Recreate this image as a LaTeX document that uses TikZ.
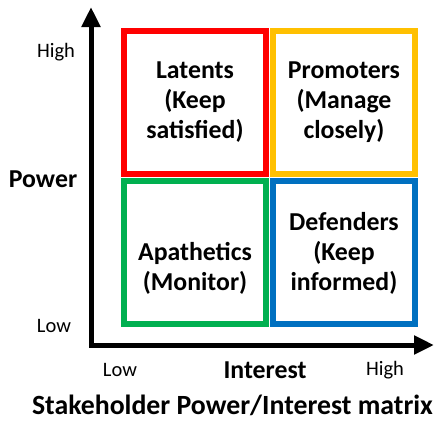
\documentclass[tikz,border=0pt]{standalone}
\usepackage{fontspec}
\setmainfont{Carlito}
\usetikzlibrary{arrows.meta}
\definecolor{qred}{HTML}{FF0000}
\definecolor{qyellow}{HTML}{FFC000}
\definecolor{qgreen}{HTML}{00B050}
\definecolor{qblue}{HTML}{0070C0}
\tikzset{
  quad/.style={draw=#1, line width=6pt, rectangle, minimum width=142pt, minimum height=143pt, inner sep=0pt, outer sep=0pt},
  qtext/.style={align=center, font=\fontsize{25.8}{30}\selectfont\bfseries, inner sep=0pt},
  lbl/.style={font=\fontsize{20.5}{24}\selectfont, inner sep=0pt},
  blbl/.style={font=\fontsize{25.8}{28}\selectfont\bfseries, inner sep=0pt},
  tlbl/.style={font=\fontsize{27.8}{30}\selectfont\bfseries, inner sep=0pt},
  axis/.style={line width=5pt, miter limit=10, {Triangle[length=20pt,width=18pt]}-{Triangle[length=20pt,width=18pt]}}
}
\begin{document}
\begin{tikzpicture}[x=1pt,y=-1pt]
\useasboundingbox (0,0) rectangle (439,421);
\coordinate (ytip) at (91,7);
\coordinate (origin) at (91,345);
\coordinate (xtip) at (434,345);
\draw[axis] (ytip) -- (origin) -- (xtip);
\node[quad=qred] (lat) at (195,102.5) {};
\node[quad=qyellow] (pro) at (344,102.5) {};
\node[quad=qgreen] (apa) at (195,252.5) {};
\node[quad=qblue] (def) at (344,252.5) {};
\node[qtext] (latt) at (195,102) {Latents\\(Keep\\satisfied)};
\node[qtext] (prot) at (344,102) {Promoters\\(Manage\\closely)};
\node[qtext] (apat) at (195,268) {Apathetics\\(Monitor)};
\node[qtext] (deft) at (344,253) {Defenders\\(Keep\\informed)};
\node[lbl] (yhigh) at (56,52) {High};
\node[lbl] (ylow) at (54,326) {Low};
\node[blbl] (power) at (43,179) {Power};
\node[lbl] (xlow) at (120,370) {Low};
\node[blbl] (interest) at (265,370) {Interest};
\node[lbl] (xhigh) at (385,370) {High};
\node[tlbl, anchor=base] (title) at (232.5,414) {Stakeholder Power/Interest matrix};
\end{tikzpicture}
\end{document}
